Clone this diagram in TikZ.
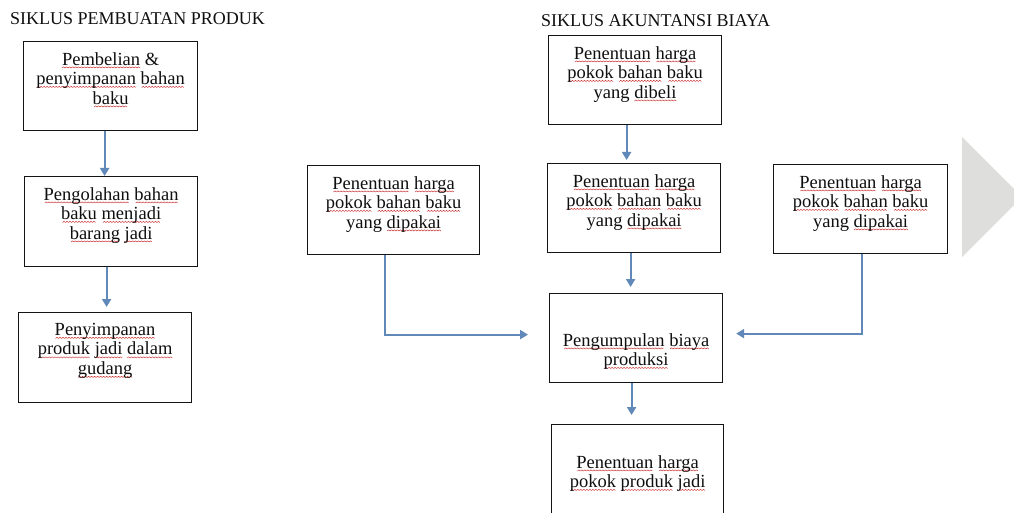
\documentclass[tikz,border=0pt]{standalone}
\usepackage{fontspec}
\setmainfont{Liberation Serif}
\usetikzlibrary{arrows.meta,calc}
\definecolor{arrcol}{RGB}{96,136,184}
\definecolor{wavecol}{RGB}{200,40,40}
\definecolor{boxcol}{RGB}{20,20,20}
\definecolor{txtcol}{RGB}{15,15,15}
\definecolor{chev}{RGB}{222,222,220}
\newsavebox\wvbox
\newsavebox\wvword
\sbox\wvbox{\tikz[baseline=0pt]{\useasboundingbox (0pt,0pt) rectangle (3pt,1.2pt);\draw[wavecol,line width=0.45pt,line join=round] (0pt,0pt) -- (1.5pt,1.2pt) -- (3pt,0pt);}}
\newcommand\wv[1]{\leavevmode\sbox\wvword{#1}\rlap{\lower3pt\hbox to\wd\wvword{\cleaders\copy\wvbox\hfil}}\usebox\wvword}
\begin{document}
\begin{tikzpicture}[x=1pt,y=-1pt,
  boxst/.style={draw=boxcol,line width=1.2pt,inner sep=0pt,anchor=north west,minimum width=173pt,minimum height=89pt},
  txt/.style={anchor=north,inner sep=0pt,align=center,text=txtcol,font=\fontsize{18.5}{19.5}\selectfont},
  ttl/.style={anchor=base west,inner sep=0pt,text=txtcol,font=\fontsize{18}{20}\selectfont},
  arr/.style={draw=arrcol,line width=2pt,-{Triangle[length=8pt,width=9pt]}}]
\useasboundingbox (0,0) rectangle (1014,513);
% chevron
\fill[chev] (962,137) -- (1022,197) -- (962,257) -- cycle;
% titles
\node[ttl] (t1) at (10,25) {SIKLUS PEMBUATAN PRODUK};
\node[ttl] (t2) at (541,27) {SIKLUS AKUNTANSI BIAYA};
% left column
\node[boxst,minimum width=174pt] (b1) at (23,41) {};
\node[txt] (x1) at ([yshift=-11pt]b1.north) {\wv{Pembelian} \&\\\wv{penyimpanan} \wv{bahan}\\\wv{baku}};
\node[boxst,minimum height=90pt] (b2) at (24,176) {};
\node[txt] (x2) at ([yshift=-11pt]b2.north) {\wv{Pengolahan} \wv{bahan}\\\wv{baku} \wv{menjadi}\\\wv{barang} \wv{jadi}};
\node[boxst,minimum height=90pt] (b3) at (18,312) {};
\node[txt] (x3) at ([yshift=-11pt]b3.north) {\wv{Penyimpanan}\\\wv{produk} \wv{jadi} \wv{dalam}\\\wv{gudang}};
% right part
\node[boxst,minimum width=172pt] (L) at (307,165) {};
\node[txt] (xL) at ([yshift=-11pt]L.north) {\wv{Penentuan} \wv{harga}\\\wv{pokok} \wv{bahan} \wv{baku}\\yang \wv{dipakai}};
\node[boxst] (T) at (548,35) {};
\node[txt] (xT) at ([yshift=-11pt]T.north) {\wv{Penentuan} \wv{harga}\\\wv{pokok} \wv{bahan} \wv{baku}\\yang \wv{dibeli}};
\node[boxst] (M) at (547,163) {};
\node[txt] (xM) at ([yshift=-11pt]M.north) {\wv{Penentuan} \wv{harga}\\\wv{pokok} \wv{bahan} \wv{baku}\\yang \wv{dipakai}};
\node[boxst,minimum width=174pt] (R) at (773,164) {};
\node[txt] (xR) at ([yshift=-11pt]R.north) {\wv{Penentuan} \wv{harga}\\\wv{pokok} \wv{bahan} \wv{baku}\\yang \wv{dipakai}};
\node[boxst] (P) at (549,293) {};
\node[txt] (xP) at ([yshift=-40pt]P.north) {\wv{Pengumpulan} \wv{biaya}\\\wv{produksi}};
\node[boxst,minimum width=172pt,minimum height=90pt] (F) at (551,424) {};
\node[txt] (xF) at ([yshift=-31pt]F.north) {\wv{Penentuan} \wv{harga}\\\wv{pokok} \wv{produk} \wv{jadi}};
% connectors
\draw[arr] ([xshift=-6pt]b1.south) -- ([xshift=-6pt]b1.south |- b2.north);
\draw[arr,shorten >=5pt] ([xshift=-4.5pt]b2.south) -- ([xshift=-4.5pt]b2.south |- b3.north);
\draw[arr,shorten >=3pt] ([xshift=-8.5pt]T.south) -- ([xshift=-8.5pt]T.south |- M.north);
\draw[arr,shorten >=6pt] ([xshift=-3.5pt]M.south) -- ([xshift=-3.5pt]M.south |- P.north);
\draw[arr,shorten >=9pt] ([xshift=-4.5pt]P.south) -- ([xshift=-4.5pt]P.south |- F.north);
\draw[arr,shorten >=21pt] ([xshift=-9pt]L.south) |- ($(P.west)+(0,-3.5)$);
\draw[arr,shorten >=13pt] ([xshift=1pt]R.south) |- ($(P.east)+(0,-4.5)$);
\end{tikzpicture}
\end{document}
